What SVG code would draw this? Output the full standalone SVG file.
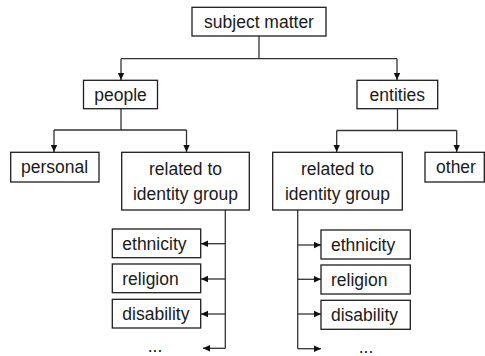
<svg xmlns="http://www.w3.org/2000/svg" width="485" height="356" viewBox="0 0 485 356">
<style>
.box{fill:#fff;stroke:#1e1e1e;stroke-width:1.3}
.t{font-family:"Liberation Sans",Arial,sans-serif;font-size:17.5px;fill:#1a1a1a}
.c{text-anchor:middle}
.ln{fill:none;stroke:#333;stroke-width:1.3;marker-end:url(#ah)}
.ln0{fill:none;stroke:#333;stroke-width:1.3}
</style>
<defs>
<marker id="ah" markerWidth="8" markerHeight="8" refX="7" refY="4" orient="auto" markerUnits="userSpaceOnUse">
<path d="M0,0.8 L7,4 L0,7.2 Z" fill="#111"/>
</marker>
</defs>
<rect width="485" height="356" fill="#fff"/>
<g id="connectors">
<path class="ln0" d="M259,36 V58.7 M121,58.7 H397"/>
<path class="ln" d="M121,58.7 V80"/>
<path class="ln" d="M397,58.7 V80"/>
<path class="ln0" d="M121,108.7 V130 M54,130 H186.5"/>
<path class="ln" d="M54,130 V152"/>
<path class="ln" d="M186.5,130 V152"/>
<path class="ln0" d="M397.5,108.7 V130.5 M336.7,130.5 H456.7"/>
<path class="ln" d="M336.7,130.5 V152"/>
<path class="ln" d="M456.7,130.5 V152"/>
<path class="ln0" d="M225.3,210 V348.3"/>
<path class="ln" d="M225.3,243.7 H201"/>
<path class="ln" d="M225.3,279 H201"/>
<path class="ln" d="M225.3,314 H201"/>
<path class="ln" d="M225.3,348.3 H203"/>
<path class="ln0" d="M297.7,210 V348.7"/>
<path class="ln" d="M297.7,245 H321"/>
<path class="ln" d="M297.7,279.3 H321"/>
<path class="ln" d="M297.7,314 H321"/>
<path class="ln" d="M297.7,348.7 H321"/>
</g>
<g id="subject"><rect class="box" x="192" y="7.3" width="134" height="28.7"/><text class="t c" x="259" y="28">subject matter</text></g>
<g id="people"><rect class="box" x="83.5" y="80.3" width="74" height="28.4"/><text class="t c" x="120.5" y="100.5">people</text></g>
<g id="entities"><rect class="box" x="357" y="80.3" width="80.7" height="28.4"/><text class="t c" x="397.3" y="100.5">entities</text></g>
<g id="personal"><rect class="box" x="10.7" y="152.3" width="88.3" height="29.7"/><text class="t c" x="54.5" y="172.8">personal</text></g>
<g id="related-left"><rect class="box" x="121.7" y="152.3" width="127.6" height="57.7"/><text class="t c" x="185.5" y="175">related to</text><text class="t c" x="185.5" y="200">identity group</text></g>
<g id="related-right"><rect class="box" x="272.7" y="152.3" width="129.6" height="57.7"/><text class="t c" x="337.5" y="175">related to</text><text class="t c" x="337.5" y="200">identity group</text></g>
<g id="other"><rect class="box" x="425" y="152.3" width="59.3" height="29.7"/><text class="t c" x="456" y="172.8">other</text></g>
<g id="ethnicity-left"><rect class="box" x="112.3" y="229" width="88.4" height="28.7"/><text class="t" x="122.3" y="249.8">ethnicity</text></g>
<g id="religion-left"><rect class="box" x="112.3" y="264" width="88.4" height="28.7"/><text class="t" x="122.3" y="284.8">religion</text></g>
<g id="disability-left"><rect class="box" x="112.3" y="299.3" width="88.4" height="28.7"/><text class="t" x="122.3" y="320">disability</text></g>
<g id="more-left"><text class="t c" x="155" y="352">...</text></g>
<g id="ethnicity-right"><rect class="box" x="321" y="230" width="89.3" height="29"/><text class="t" x="331" y="250.8">ethnicity</text></g>
<g id="religion-right"><rect class="box" x="321" y="265" width="89.3" height="29"/><text class="t" x="331" y="285.8">religion</text></g>
<g id="disability-right"><rect class="box" x="321" y="300.3" width="89.3" height="29"/><text class="t" x="331" y="321">disability</text></g>
<g id="more-right"><text class="t c" x="366" y="352.5">...</text></g>
</svg>
